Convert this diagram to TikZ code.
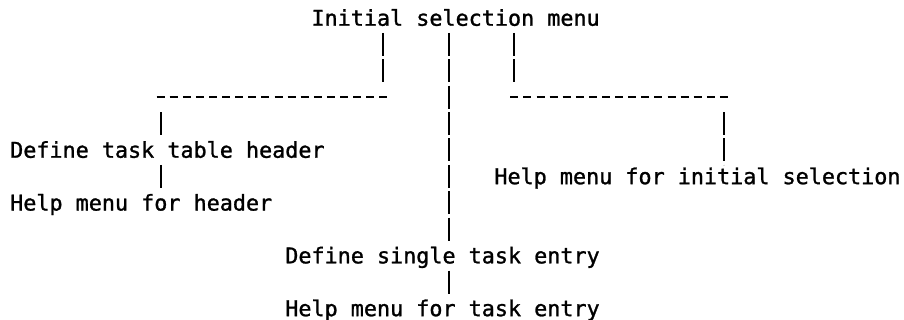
\documentclass[tikz,border=0pt]{standalone}
\usepackage{fontspec}
\setmonofont[FakeBold=1.2]{DejaVu Sans Mono}

\begin{document}
\begin{tikzpicture}[x=1pt,y=-1pt,
    menu node/.style={anchor=base west,inner sep=0pt,font=\ttfamily\fontsize{21.76pt}{26pt}\selectfont},
    pipe/.style={line width=2pt,dash pattern=on 23pt off 3.4pt},
    rule/.style={line width=1.8pt,dash pattern=on 8pt off 5.1pt}]
    \useasboundingbox (0,0) rectangle (904,320);

    \node[menu node] (init) at (311.3,25.75) {Initial selection menu};
    \node[menu node] (hdr) at (10,157.75) {Define task table header};
    \node[menu node] (hdrhelp) at (10,210.55) {Help menu for header};
    \node[menu node] (inithelp) at (494.2,184.15) {Help menu for initial selection};
    \node[menu node] (entry) at (285.1,263.35) {Define single task entry};
    \node[menu node] (entryhelp) at (285.1,316.15) {Help menu for task entry};

    \coordinate (ltop) at (383.3,32.9);
    \coordinate (lend) at (383.3,82.3);
    \coordinate (rtop) at (514.3,32.9);
    \coordinate (rend) at (514.3,82.3);
    \coordinate (ctop) at (448.8,32.9);
    \coordinate (cend) at (448.8,240.7);

    \draw[pipe] (ltop) -- (lend);
    \draw[pipe] (ctop) -- (cend);
    \draw[pipe] (rtop) -- (rend);

    \draw[rule] (156.6,97.2) coordinate (lrule a) -- (387.3,97.2) coordinate (lrule b);
    \draw[rule] (510.3,97.2) coordinate (rrule a) -- (727.9,97.2) coordinate (rrule b);

    \draw[pipe] (160.6,112.1) -- (160.6,135.1);
    \draw[pipe] (160.6,164.9) -- (160.6,187.9);
    \draw[pipe] (723.9,112.1) -- (723.9,164.9);
    \draw[pipe] (448.8,270.5) -- (448.8,293.5);
\end{tikzpicture}
\end{document}
